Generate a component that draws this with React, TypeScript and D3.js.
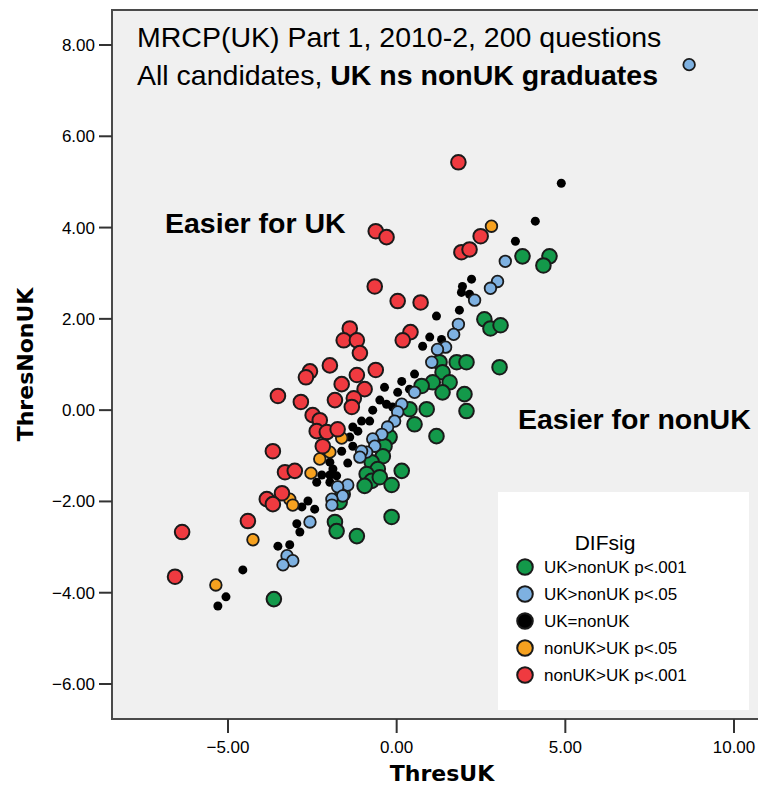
import React from "react";
import * as d3 from "d3";

// [ThresUK, ThresNonUK], one array per DIFsig group
const ukOver001: [number, number][] = [
  [3.73, 3.37], [4.53, 3.37], [4.35, 3.17], [2.6, 1.99], [2.78, 1.79], [3.08, 1.86],
  [3.05, 0.94], [1.27, 1.05], [1.78, 1.05], [2.07, 1.05], [1.36, 0.83], [1.07, 0.61],
  [1.57, 0.61], [1.36, 0.39], [0.74, 0.53], [2.01, 0.35], [2.07, -0.02], [0.38, 0.02],
  [0.89, 0.02], [0.53, -0.31], [1.18, -0.57], [-0.21, -0.59], [-0.36, -0.79], [-0.41, -1.01],
  [-0.74, -1.14], [-0.56, -1.29], [-0.89, -1.4], [-0.74, -1.55], [-0.5, -1.47], [-0.95, -1.66],
  [0.15, -1.33], [-0.15, -1.64], [-1.6, -1.84], [-1.69, -2.01], [-1.83, -2.45], [-1.78, -2.65],
  [-1.18, -2.76], [-0.15, -2.34], [-3.64, -4.14],
];
const ukOver05: [number, number][] = [
  [8.67, 7.57], [3.22, 3.26], [2.99, 2.82], [2.78, 2.67], [2.31, 2.41], [1.83, 1.88],
  [1.69, 1.66], [1.45, 1.38], [1.21, 1.33], [1.04, 1.05], [0.53, 0.39], [0.15, 0.13],
  [0.03, -0.04], [-0.06, -0.24], [-0.27, -0.37], [-0.44, -0.53], [-0.71, -0.63], [-0.65, -0.79],
  [-0.89, -0.92], [-1.04, -0.9], [-1.09, -1.03], [-1.45, -1.64], [-1.75, -1.68], [-1.6, -1.88],
  [-1.92, -1.95], [-1.92, -2.08], [-2.57, -2.45], [-3.25, -3.19], [-3.08, -3.3], [-3.37, -3.39],
];
const ukEqual: [number, number][] = [
  [4.88, 4.97], [4.11, 4.14], [3.52, 3.7], [2.22, 2.87], [1.95, 2.71], [1.92, 2.58],
  [2.16, 2.54], [1.18, 2.06], [1.86, 2.19], [0.98, 1.6], [0.77, 1.4], [1.33, 1.55],
  [0.53, 0.79], [0.15, 0.63], [-0.36, 0.5], [0.38, 0.46], [0.03, 0.39], [-0.5, 0.22],
  [-0.71, 0.0], [-0.3, 0.13], [-0.12, 0.07], [-1.04, -0.24], [-0.8, -0.24], [-1.3, -0.37],
  [-1.15, -0.46], [-1.39, -0.59], [-1.3, -0.79], [-1.63, -0.9], [-1.45, -1.16], [-1.98, -1.14],
  [-1.89, -1.29], [-1.98, -1.42], [-1.78, -1.44], [-2.22, -1.42], [-2.37, -1.58], [-1.98, -1.58],
  [-2.63, -1.99], [-2.43, -2.17], [-2.81, -2.12], [-2.96, -2.49], [-2.87, -2.67], [-3.52, -2.98],
  [-3.17, -2.95], [-4.56, -3.5], [-5.06, -4.09], [-5.3, -4.29],
];
const nonUkOver05: [number, number][] = [
  [2.81, 4.03], [-1.63, -0.61], [-1.98, -0.92], [-2.28, -1.07], [-2.54, -1.38],
  [-3.17, -1.95], [-3.08, -2.08], [-4.26, -2.84], [-5.36, -3.83],
];
const nonUkOver001: [number, number][] = [
  [1.83, 5.43], [-0.62, 3.92], [-0.3, 3.79], [1.92, 3.46], [2.16, 3.52], [2.49, 3.81],
  [-0.65, 2.71], [0.03, 2.39], [0.71, 2.36], [-1.39, 1.79], [-1.57, 1.53], [-1.18, 1.53],
  [-1.09, 1.25], [0.41, 1.71], [0.18, 1.53], [-1.98, 0.98], [-2.57, 0.85], [-2.69, 0.72],
  [-0.62, 0.88], [-1.18, 0.77], [-1.63, 0.57], [-0.95, 0.46], [-3.52, 0.31], [-2.84, 0.18],
  [-1.83, 0.22], [-1.27, 0.26], [-1.33, 0.07], [-2.49, -0.11], [-2.28, -0.22], [-2.37, -0.46],
  [-2.07, -0.48], [-1.75, -0.42], [-2.19, -0.79], [-3.67, -0.9], [-3.31, -1.36], [-3.02, -1.33],
  [-3.4, -1.82], [-3.85, -1.95], [-3.67, -2.06], [-4.41, -2.43], [-6.36, -2.67], [-6.57, -3.65],
];

const xTicks = [-5, 0, 5, 10];
const yTicks = [-6, -4, -2, 0, 2, 4, 6, 8];

const legendLabels = [
  "UK>nonUK p<.001",
  "UK>nonUK p<.05",
  "UK=nonUK",
  "nonUK>UK p<.05",
  "nonUK>UK p<.001",
];
const colors = ["#13994a", "#7eb1e1", "#000000", "#f6a11f", "#ef3a40"];

const sans = "'Liberation Sans', Arial, sans-serif";

export default function App() {
  const width = 758;
  const height = 795;
  const frame = { left: 112, top: 10, right: 772, bottom: 719 };

  const x = d3.scaleLinear().domain([-5, 10]).range([228, 734]);
  const y = d3.scaleLinear().domain([-6, 8]).range([684, 45]);
  const fmt = d3.format(".2f");

  // draw order: black under the coloured groups
  const groups = [
    { data: ukEqual, color: colors[2], r: 4.5, stroke: 0 },
    { data: ukOver001, color: colors[0], r: 7.3, stroke: 2 },
    { data: ukOver05, color: colors[1], r: 5.8, stroke: 1.8 },
    { data: nonUkOver05, color: colors[3], r: 5.8, stroke: 1.8 },
    { data: nonUkOver001, color: colors[4], r: 7.3, stroke: 2 },
  ];

  const midX = (frame.left + frame.right) / 2;
  const midY = (frame.top + frame.bottom) / 2;

  return (
    <svg
      width={width}
      height={height}
      style={{ position: "absolute", left: 0, top: 0, background: "#fff" }}
    >
      {/* plot area */}
      <rect
        x={frame.left}
        y={frame.top}
        width={frame.right - frame.left}
        height={frame.bottom - frame.top}
        fill="#f0f0f0"
        stroke="#4a4a4a"
        strokeWidth={2}
      />

      {/* y axis */}
      {yTicks.map((t) => (
        <g key={`y${t}`}>
          <line x1={frame.left - 13} x2={frame.left} y1={y(t)} y2={y(t)} stroke="#333" strokeWidth={2} />
          <text x={frame.left - 17} y={y(t) + 6} textAnchor="end" fontFamily={sans} fontSize={17}>
            {fmt(t)}
          </text>
        </g>
      ))}
      {/* x axis */}
      {xTicks.map((t) => (
        <g key={`x${t}`}>
          <line x1={x(t)} x2={x(t)} y1={frame.bottom} y2={frame.bottom + 14} stroke="#333" strokeWidth={2} />
          <text x={x(t)} y={frame.bottom + 34} textAnchor="middle" fontFamily={sans} fontSize={17}>
            {fmt(t)}
          </text>
        </g>
      ))}
      <text x={midX} y={781} textAnchor="middle" fontFamily="'DejaVu Sans', sans-serif" fontWeight="bold" fontSize={22}>
        ThresUK
      </text>
      <text
        transform={`translate(33, ${midY}) rotate(-90)`}
        textAnchor="middle"
        fontFamily="'DejaVu Sans', sans-serif"
        fontWeight="bold"
        fontSize={22}
      >
        ThresNonUK
      </text>

      {/* points */}
      {groups.map((g, gi) =>
        g.data.map((d, i) => (
          <circle
            key={`${gi}-${i}`}
            cx={x(d[0])}
            cy={y(d[1])}
            r={g.r}
            fill={g.color}
            stroke="#1a1a1a"
            strokeWidth={g.stroke}
          />
        ))
      )}

      {/* annotations */}
      <text x={137} y={47} fontFamily={sans} fontSize={28.5}>
        MRCP(UK) Part 1, 2010-2, 200 questions
      </text>
      <text x={137} y={85} fontFamily={sans} fontSize={28.5}>
        All candidates, <tspan fontWeight="bold">UK ns nonUK graduates</tspan>
      </text>
      <text x={165} y={233} fontFamily={sans} fontSize={28.5} fontWeight="bold">
        Easier for UK
      </text>
      <text x={518} y={429} fontFamily={sans} fontSize={28.5} fontWeight="bold">
        Easier for nonUK
      </text>

      {/* legend */}
      <g>
        <rect x={498} y={492} width={251} height={218} fill="#fff" />
        <text x={605} y={550} textAnchor="middle" fontFamily={sans} fontSize={21}>
          DIFsig
        </text>
        {legendLabels.map((label, i) => (
          <g key={label} transform={`translate(525, ${567 + i * 27})`}>
            <circle r={7.8} fill={colors[i]} stroke="#1a1a1a" strokeWidth={2} />
            <text x={19} y={6} fontFamily={sans} fontSize={17}>
              {label}
            </text>
          </g>
        ))}
      </g>
    </svg>
  );
}
